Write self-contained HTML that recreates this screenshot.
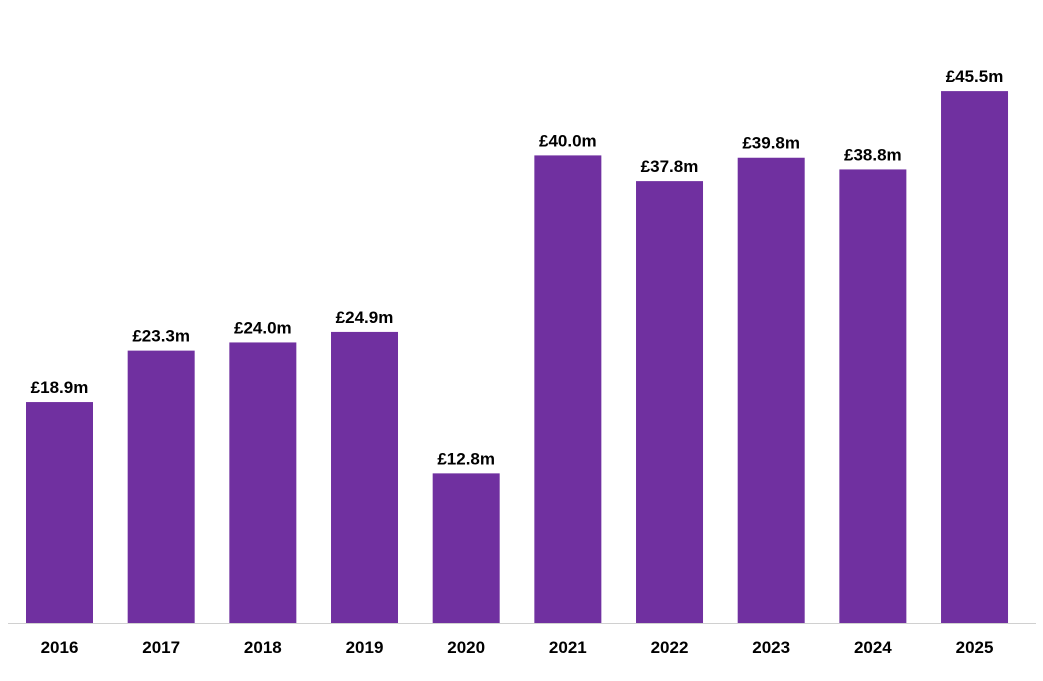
<!DOCTYPE html>
<html><head><meta charset="utf-8"><style>
html,body{margin:0;padding:0;background:#fff;}
svg{display:block;font-family:"Liberation Sans",Arial,sans-serif;}
</style></head><body>
<svg id="chart" width="1043" height="681" viewBox="0 0 1043 681">
<line x1="8" y1="623.5" x2="1036" y2="623.5" stroke="#d0d0d0" stroke-width="1"/>
<g id="bars"></g>
</svg>
<script>
const categories = ["2016","2017","2018","2019","2020","2021","2022","2023","2024","2025"];
const values = [18.9,23.3,24.0,24.9,12.8,40.0,37.8,39.8,38.8,45.5];
const labels = ["£18.9m","£23.3m","£24.0m","£24.9m","£12.8m","£40.0m","£37.8m","£39.8m","£38.8m","£45.5m"];
const baseY = 623, pxPerUnit = 11.69, firstCenter = 59.5, step = 101.67, barW = 67;
const x = i => firstCenter + i * step;
const y = v => baseY - v * pxPerUnit;
const g = document.getElementById('bars');
const NS = "http://www.w3.org/2000/svg";
categories.forEach((c, i) => {
  const r = document.createElementNS(NS, 'rect');
  
  
  r.setAttribute('x', x(i) - barW / 2);
  r.setAttribute('y', y(values[i]));
  r.setAttribute('width', barW);
  r.setAttribute('height', baseY - y(values[i]));
  r.setAttribute('fill', '#7030A0');
  g.appendChild(r);
  const t = document.createElementNS(NS, 'text');
  
  
  t.setAttribute('x', x(i));
  t.setAttribute('y', y(values[i]) - 9);
  t.setAttribute('text-anchor', 'middle');
  t.setAttribute('font-size', '17');
  t.setAttribute('font-weight', 'bold');
  t.setAttribute('fill', '#000');
  t.textContent = labels[i];
  g.appendChild(t);
  const a = document.createElementNS(NS, 'text');
  
  
  a.setAttribute('x', x(i));
  a.setAttribute('y', 653);
  a.setAttribute('text-anchor', 'middle');
  a.setAttribute('font-size', '17');
  a.setAttribute('font-weight', 'bold');
  a.setAttribute('fill', '#000');
  a.textContent = c;
  g.appendChild(a);
});
</script>
</body></html>
